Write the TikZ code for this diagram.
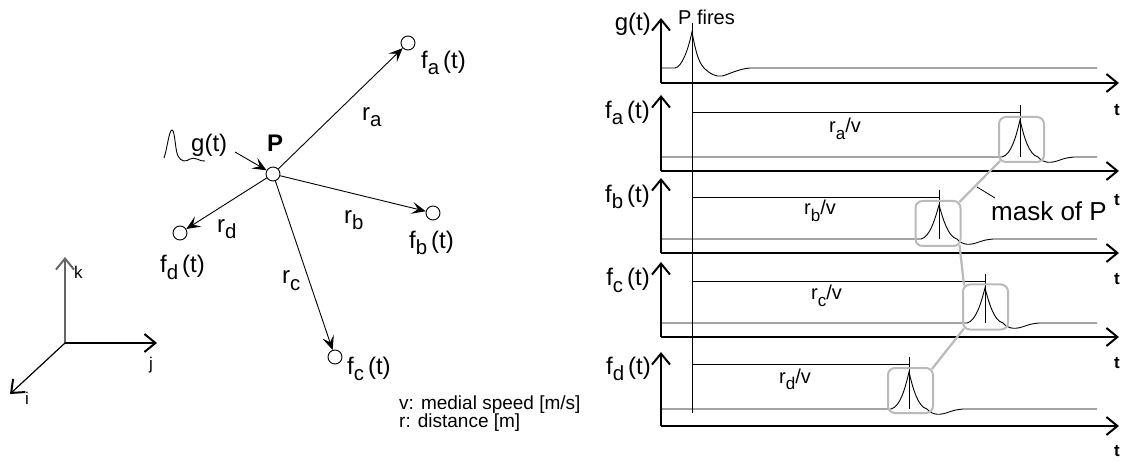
\documentclass[tikz,border=0pt]{standalone}
\usepackage{fontspec}
\setmainfont{Liberation Sans}
\usepackage{graphicx}
\usetikzlibrary{arrows.meta}
\newcommand\sbx[1]{\raisebox{-0.25em}{\scalebox{0.85}{#1}}}
\newcommand\sbr[1]{\raisebox{-0.32em}{\scalebox{0.85}{#1}}}
\begin{document}
\begin{tikzpicture}[x=1pt,y=-1pt,
  nd/.style={circle,draw,line width=0.9pt,minimum size=14pt,inner sep=0pt},
  arr/.style={line width=0.9pt,-{Stealth[length=14pt,width=12pt,inset=6pt]}},
  axarr/.style={line width=1.2pt,-{Straight Barb[length=11pt,width=18pt,line width=2pt]}},
  lbl/.style={font=\fontsize{24}{28}\selectfont,inner sep=0pt},
  rlbl/.style={font=\fontsize{20}{24}\selectfont,inner sep=0pt},
  tl/.style={font=\fontsize{17}{20}\selectfont\bfseries,inner sep=0pt,anchor=base},
  sig/.style={line width=0.9pt},
  mbox/.style={draw=black!27,line width=2pt,rounded corners=7pt,minimum width=45pt,minimum height=45pt,inner sep=0pt},
  mline/.style={draw=black!27,line width=2.2pt}]
\useasboundingbox (0,0) rectangle (1127,462);

% ---------- left: spatial sketch ----------
\node[nd] (P) at (273,174) {};
\node[nd] (A) at (408,43) {};
\node[nd] (B) at (433,213) {};
\node[nd] (C) at (335,357) {};
\node[nd] (D) at (180,233) {};
\draw[arr] (P) -- (A);
\draw[arr] (P) -- (B);
\draw[arr] (P) -- (C);
\draw[arr] (P) -- (D);
\coordinate (gs) at (235,152);
\draw[arr] (gs) -- (P);

\node[lbl,anchor=base west,font=\fontsize{24}{28}\selectfont\bfseries] (Pl) at (267,152) {P};
\node[lbl,anchor=base west] (gl) at (191,152) {g(t)};
\draw[sig] (164,158) .. controls (167,150) and (169,130) .. (172,130) .. controls (175,130) and (175,150) .. (178,156) .. controls (181,162) and (186,162) .. (190,159) .. controls (195,156) and (200,162) .. (205,161);

\node[lbl,anchor=base west] (fa) at (421,69) {f\sbx{a}\,(t)};
\node[lbl,anchor=base west] (fb) at (409,249) {f\sbx{b}\,(t)};
\node[lbl,anchor=base west] (fc) at (347,374) {f\sbx{c}\,(t)};
\node[lbl,anchor=base west] (fd) at (160,273) {f\sbx{d}\,(t)};
\node[lbl,anchor=base west] (ra) at (362,121) {r\sbx{a}};
\node[lbl,anchor=base west] (rb) at (344,224) {r\sbx{b}};
\node[lbl,anchor=base west] (rc) at (282,284) {r\sbx{c}};
\node[lbl,anchor=base west] (rd) at (217,233) {r\sbx{d}};

% coordinate axes
\coordinate (O) at (65,343);
\coordinate (K) at (65,257);
\coordinate (J) at (157,343);
\coordinate (I) at (10,394);
\draw[axarr,draw=black!60] (O) -- (K);
\draw[axarr] (O) -- (J);
\draw[axarr] (O) -- (I);
\node[font=\fontsize{17}{20}\selectfont,anchor=base west,inner sep=0pt] (kl) at (74,279) {k};
\node[font=\fontsize{17}{20}\selectfont,anchor=base west,inner sep=0pt] (jl) at (149,369) {j};
\node[font=\fontsize{17}{20}\selectfont,anchor=base west,inner sep=0pt] (il) at (25,404) {i};

\node[font=\fontsize{19}{22}\selectfont,anchor=base west,inner sep=0pt] (v1) at (399,409) {v: medial speed [m/s]};
\node[font=\fontsize{19}{22}\selectfont,anchor=base west,inner sep=0pt] (v2) at (399,427) {r: distance [m]};

% ---------- right: timing ----------
\foreach \ay/\ty/\tb in {83/18/116, 171/95/206, 253/178/285, 337/262/368, 426/352/456}{
  \draw[axarr] (661,\ay) -- (661,\ty);
  \draw[axarr] (661,\ay) -- (1119,\ay);
  \node[tl] at (1117,\tb) {t};
}
\draw[sig] (692,23) -- (692,413);
\node[font=\fontsize{20}{24}\selectfont,anchor=base west,inner sep=0pt] (pf) at (678,25) {P fires};

\draw[sig] (661,68) -- (675,68) .. controls (682,67) and (688,50) .. (692,32) .. controls (695,48) and (698,62) .. (704,68) .. controls (710,74) and (716,77) .. (722,76) .. controls (730,74) and (738,69) .. (750,68) -- (1097,68);

\foreach \b/\px/\pk/\dl in {157/1020/120/112, 239/939/205/197, 323/985/288/281, 409/909/372/364}{
  \draw[sig] (661,\b) -- (\px-18,\b) .. controls (\px-9,\b-2) and (\px-4,\b-20) .. (\px,\pk) .. controls (\px+4,\b-20) and (\px+9,\b-2) .. (\px+18,\b) .. controls (\px+24,\b+7) and (\px+32,\b+6) .. (\px+40,\b+3) .. controls (\px+46,\b+1) .. (\px+54,\b) -- (1097,\b);
  \draw[sig] (692,\dl) -- (\px,\dl);
  \draw[sig] (\px,\dl-7) -- (\px,\b);
}

\node[lbl,anchor=base east] (gtl) at (651,31) {g(t)};
\node[lbl,anchor=base east] (fat) at (650,119) {f\sbx{a}\,(t)};
\node[lbl,anchor=base east] (fbt) at (650,203) {f\sbx{b}\,(t)};
\node[lbl,anchor=base east] (fct) at (650,286) {f\sbx{c}\,(t)};
\node[lbl,anchor=base east] (fdt) at (651,374) {f\sbx{d}\,(t)};

\node[rlbl,anchor=base west] (rav) at (829,133) {r\sbr{a}/v};
\node[rlbl,anchor=base west] (rbv) at (804,215) {r\sbr{b}/v};
\node[rlbl,anchor=base west] (rcv) at (811,300) {r\sbr{c}/v};
\node[rlbl,anchor=base west] (rdv) at (779,383) {r\sbr{d}/v};

\node[mbox] (ma) at (1021.5,139.5) {};
\node[mbox] (mb) at (938,223.5) {};
\node[mbox] (mc) at (985.5,307) {};
\node[mbox] (md) at (910.5,390.5) {};
\draw[mline] ([shift={(2,-2)}]ma.south west) -- ([shift={(-2,2)}]mb.north east);
\draw[mline] ([shift={(-2,-2)}]mb.south east) -- ([shift={(2,2)}]mc.north west);
\draw[mline] ([shift={(2,-2)}]mc.south west) -- ([shift={(-2,2)}]md.north east);
\coordinate (mk1) at (977,187);
\coordinate (mk2) at (995,198);
\draw[line width=0.8pt] (mk1) -- (mk2);
\node[font=\fontsize{26}{30}\selectfont,anchor=base west,inner sep=0pt] (mk) at (991,221) {mask of P};
\end{tikzpicture}
\end{document}
